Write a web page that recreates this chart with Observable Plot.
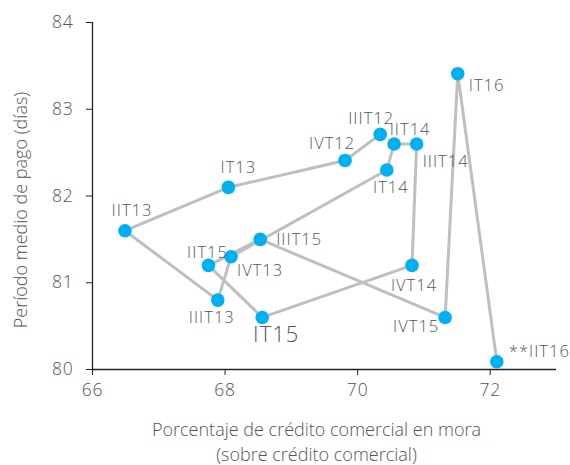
<!DOCTYPE html>
<html>
<head>
<meta charset="utf-8">
<script src="https://cdn.jsdelivr.net/npm/d3@7"></script>
<script src="https://cdn.jsdelivr.net/npm/@observablehq/plot@0.6"></script>
<style>
  html, body { margin: 0; padding: 0; background: #fff; }
  #chart { width: 570px; height: 465px; }
  g.lbl text { letter-spacing: 1px; }
  g.tk text { letter-spacing: 0.8px; }
</style>
</head>
<body>
<div id="chart"></div>
<script>
// Quarters, in chronological order (line connects them in this order)
const quarters = ["IIIT12","IVT12","IT13","IIT13","IIIT13","IVT13","IT14","IIT14","IIIT14","IVT14","IT15","IIT15","IIIT15","IVT15","IT16","**IIT16"];
// Porcentaje de crédito comercial en mora
const moroso = [70.34, 69.81, 68.05, 66.49, 67.89, 68.09, 70.44, 70.55, 70.89, 70.82, 68.56, 67.75, 68.53, 71.32, 71.51, 72.10];
// Período medio de pago (días)
const periodo = [82.71, 82.41, 82.10, 81.60, 80.80, 81.30, 82.30, 82.60, 82.60, 81.20, 80.60, 81.20, 81.50, 80.60, 83.41, 80.09];

const xTicks = [66, 68, 70, 72];
const yTicks = [80, 81, 82, 83, 84];
const xTitle = "Porcentaje de crédito comercial en mora\n(sobre crédito comercial)";
const yTitle = "Período medio de pago (días)";

// label placement: [dx, dy, anchor, fontSize]
const labelPlacement = [
  [-9, -16, "middle", 16.5],
  [-13, -17, "middle", 16.5],
  [10, -20, "middle", 16.5],
  [7, -20, "middle", 16.5],
  [-6, 18, "middle", 16.5],
  [6, 14, "start", 16.5],
  [4, 18, "middle", 16.5],
  [16, -14, "middle", 16.5],
  [6, 18, "start", 16.5],
  [2, 20, "middle", 16.5],
  [14, 18, "middle", 22],
  [-1, -13, "middle", 16.5],
  [16, 0, "start", 16.5],
  [-29, 9, "middle", 16.5],
  [11, 12, "start", 16.5],
  [12, -10, "start", 16.5]
];

const data = quarters.map((q, i) => ({q, x: moroso[i], y: periodo[i]}));

const textColor = "#555555";
const font = "'Open Sans', 'DejaVu Sans', sans-serif";

const labelMarks = data.map((d, i) => {
  const [dx, dy, anchor, fs] = labelPlacement[i];
  return Plot.text([d], {
    x: "x", y: "y", text: "q",
    dx, dy, textAnchor: anchor, lineAnchor: "middle",
    fill: textColor, fontSize: fs, fontWeight: 300, className: "lbl"
  });
});

const chart = Plot.plot({
  width: 570,
  height: 465,
  marginLeft: 92,
  marginRight: 14,
  marginTop: 22,
  marginBottom: 96,
  style: {fontFamily: font, fontSize: "17px", background: "#fff", color: "#222"},
  x: {domain: [66, 73]},
  y: {domain: [80, 84]},
  marks: [
    Plot.axisX({ticks: xTicks, tickFormat: d => String(d), tickSize: 6, tickPadding: 8, stroke: "#222", fill: textColor, fontSize: 17.5, fontWeight: 300, label: null, className: "tk"}),
    Plot.axisY({ticks: yTicks, tickFormat: d => String(d), tickSize: 6, tickPadding: 13, stroke: "#222", fill: textColor, fontSize: 17.5, fontWeight: 300, label: null, className: "tk"}),
    Plot.ruleY([80], {stroke: "#222", strokeWidth: 1.3}),
    Plot.ruleX([66], {stroke: "#222", strokeWidth: 1.3}),
    Plot.line(data, {x: "x", y: "y", stroke: "#bfbfbf", strokeWidth: 3}),
    Plot.dot(data, {x: "x", y: "y", r: 6.8, fill: "#00b0f0", stroke: "none"}),
    ...labelMarks,
    Plot.text([xTitle], {frameAnchor: "bottom", dx: -8, dy: 71, textAnchor: "middle", lineAnchor: "middle", lineHeight: 1.4, fill: textColor, fontSize: 18, fontWeight: 300, text: d => d}),
    Plot.text([yTitle], {frameAnchor: "left", dx: -71, dy: 14, rotate: -90, textAnchor: "middle", lineAnchor: "middle", fill: textColor, fontSize: 18, fontWeight: 300, text: d => d})
  ]
});

document.getElementById("chart").appendChild(chart);
</script>
</body>
</html>
